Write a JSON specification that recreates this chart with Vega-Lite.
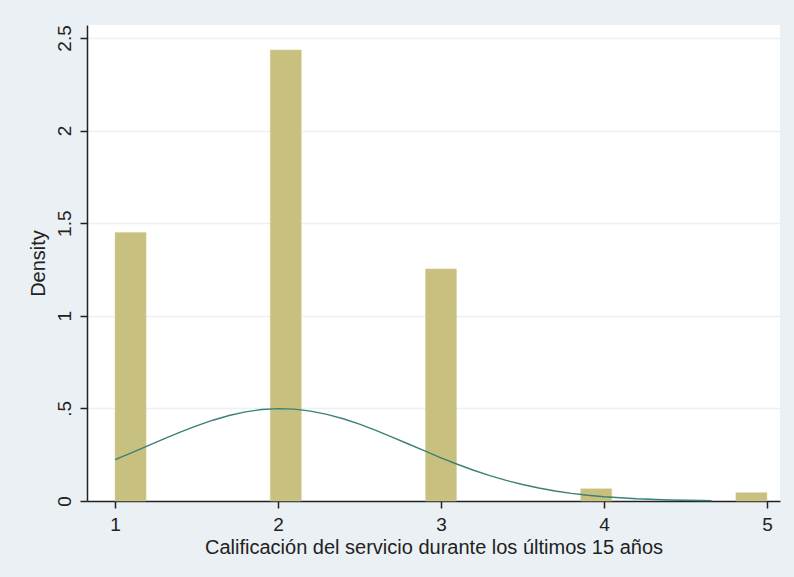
{
  "$schema": "https://vega.github.io/schema/vega-lite/v6.json",
  "width": 693,
  "height": 476,
  "autosize": {"type": "none"},
  "padding": {"left": 87, "top": 25, "right": 14, "bottom": 76},
  "background": "#eaf0f3",
  "view": {"fill": "white", "stroke": null},
  "config": {
    "font": "Liberation Sans",
    "axis": {
      "domainColor": "#222222",
      "domainWidth": 1.5,
      "tickColor": "#222222",
      "tickWidth": 1.5,
      "tickSize": 7,
      "labelColor": "#222222",
      "titleColor": "#222222",
      "labelFontSize": 19,
      "titleFontSize": 20,
      "titleFontWeight": "normal",
      "gridColor": "#eaf0f3",
      "gridWidth": 1.5
    }
  },
  "datasets": {
    "bins": [
      {"x0": 1.0, "x1": 1.1905, "density": 1.45},
      {"x0": 1.9524, "x1": 2.1429, "density": 2.435},
      {"x0": 2.9048, "x1": 3.0952, "density": 1.253},
      {"x0": 3.8571, "x1": 4.0476, "density": 0.066},
      {"x0": 4.8095, "x1": 5.0, "density": 0.045}
    ],
    "curve": [
      {"x": 1.0, "y": 0.2234}, {"x": 1.1, "y": 0.2596}, {"x": 1.2, "y": 0.2972},
      {"x": 1.3, "y": 0.3349}, {"x": 1.4, "y": 0.3715}, {"x": 1.5, "y": 0.4057},
      {"x": 1.6, "y": 0.4362}, {"x": 1.7, "y": 0.4617}, {"x": 1.8, "y": 0.4811},
      {"x": 1.9, "y": 0.4937}, {"x": 2.0, "y": 0.4986}, {"x": 2.1, "y": 0.4958},
      {"x": 2.2, "y": 0.4854}, {"x": 2.3, "y": 0.4678}, {"x": 2.4, "y": 0.4439},
      {"x": 2.5, "y": 0.4147}, {"x": 2.6, "y": 0.3814}, {"x": 2.7, "y": 0.3452},
      {"x": 2.8, "y": 0.3077}, {"x": 2.9, "y": 0.2701}, {"x": 3.0, "y": 0.2333},
      {"x": 3.1, "y": 0.1985}, {"x": 3.2, "y": 0.1662}, {"x": 3.3, "y": 0.137},
      {"x": 3.4, "y": 0.1112}, {"x": 3.5, "y": 0.0888}, {"x": 3.6, "y": 0.0699},
      {"x": 3.7, "y": 0.0541}, {"x": 3.8, "y": 0.0412}, {"x": 3.9, "y": 0.031},
      {"x": 4.0, "y": 0.0229}, {"x": 4.2, "y": 0.0119}, {"x": 4.4, "y": 0.0058},
      {"x": 4.6, "y": 0.0027}, {"x": 4.66, "y": 0.002}
    ]
  },
  "layer": [
    {
      "data": {"name": "bins"},
      "mark": {"type": "bar", "color": "#c8c07e", "stroke": "#d4ce9a", "strokeWidth": 0.5},
      "encoding": {
        "x": {
          "field": "x0", "type": "quantitative",
          "scale": {"domain": [0.828, 5.08], "nice": false, "zero": false},
          "axis": {
            "values": [1, 2, 3, 4, 5],
            "format": "d",
            "grid": false,
            "title": "Calificación del servicio durante los últimos 15 años",
            "labelPadding": 7,
            "titlePadding": 3
          }
        },
        "x2": {"field": "x1"},
        "y": {
          "field": "density", "type": "quantitative",
          "scale": {"domain": [0, 2.57], "nice": false},
          "axis": {
            "values": [0, 0.5, 1, 1.5, 2, 2.5],
            "labelExpr": "datum.value == 0.5 ? '.5' : format(datum.value, '~g')",
            "labelAngle": 270,
            "labelAlign": "center",
            "labelBaseline": "bottom",
            "labelPadding": 6,
            "title": "Density",
            "titlePadding": 7
          }
        },
        "y2": {"datum": 0}
      }
    },
    {
      "data": {"name": "curve"},
      "mark": {"type": "line", "color": "#3a8077", "strokeWidth": 1.4},
      "encoding": {
        "x": {"field": "x", "type": "quantitative"},
        "y": {"field": "y", "type": "quantitative"}
      }
    }
  ]
}
